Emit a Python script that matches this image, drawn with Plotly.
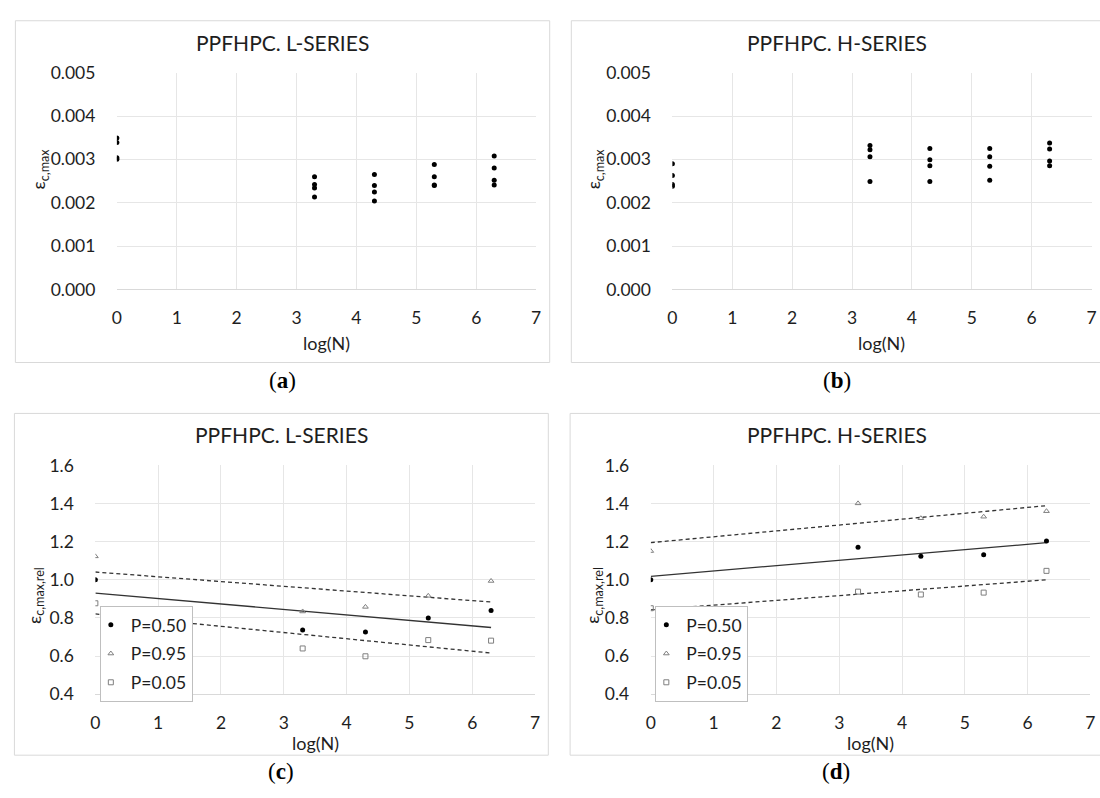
import numpy as np
import plotly.graph_objects as go

# ---------------- data ----------------
logN = [0, 3.3, 4.3, 5.3, 6.3]

# (a) L-series: eps_c,max, 4 specimens per level
L_eps = [
    [0.00349, 0.00339, 0.00304, 0.00300],
    [0.00260, 0.00242, 0.00234, 0.00213],
    [0.00265, 0.00240, 0.00225, 0.00204],
    [0.00288, 0.00260, 0.00241, 0.00240],
    [0.00308, 0.00280, 0.00252, 0.00241],
]
# (b) H-series
H_eps = [
    [0.00290, 0.00263, 0.00242, 0.00238],
    [0.00332, 0.00322, 0.00306, 0.00249],
    [0.00325, 0.00299, 0.00285, 0.00249],
    [0.00325, 0.00306, 0.00284, 0.00252],
    [0.00338, 0.00324, 0.00296, 0.00285],
]
# (c) L-series relative
L_p50 = [1.000, 0.737, 0.727, 0.800, 0.839]
L_p95 = [1.123, 0.834, 0.858, 0.916, 0.994]
L_p05 = [0.877, 0.640, 0.599, 0.684, 0.681]
# (d) H-series relative
H_p50 = [1.000, 1.171, 1.123, 1.132, 1.203]
H_p95 = [1.151, 1.401, 1.323, 1.331, 1.360]
H_p05 = [0.851, 0.938, 0.923, 0.933, 1.047]

titles = ["PPFHPC. L-SERIES", "PPFHPC. H-SERIES", "PPFHPC. L-SERIES", "PPFHPC. H-SERIES"]
captions = ["(<b>a</b>)", "(<b>b</b>)", "(<b>c</b>)", "(<b>d</b>)"]
legend_names = ["P=0.50", "P=0.95", "P=0.05"]

# ---------------- layout helpers ----------------
W, H = 1100, 798
FONT = "Lato, 'Open Sans', sans-serif"
TXT = "#1e1e1e"
GRID = "#e6e6e6"
FRAME = "#d9d9d9"

def px(x):
    return x / W

def py(y):
    return 1 - y / H

fig = go.Figure()

def flat(groups):
    xs, ys = [], []
    for xv, g in zip(logN, groups):
        for v in g:
            xs.append(xv)
            ys.append(v)
    return xs, ys

# (a)
xa, ya = flat(L_eps)
fig.add_trace(go.Scatter(x=xa, y=ya, mode="markers", xaxis="x", yaxis="y",
                         marker=dict(color="black", size=5), showlegend=False))
# (b)
xb, yb = flat(H_eps)
fig.add_trace(go.Scatter(x=xb, y=yb, mode="markers", xaxis="x2", yaxis="y2",
                         marker=dict(color="black", size=5), showlegend=False))

def rel_panel(p50, p95, p05, xa_, ya_, leg):
    xs = np.array(logN, dtype=float)
    xl = np.array([xs.min(), xs.max()])
    for vals, dash in ((p50, "solid"), (p95, "4px,3px"), (p05, "4px,3px")):
        k, b = np.polyfit(xs, np.array(vals), 1)
        fig.add_trace(go.Scatter(x=xl, y=k * xl + b, mode="lines", xaxis=xa_, yaxis=ya_,
                                 line=dict(color="#333333", width=1.3, dash=dash),
                                 showlegend=False, hoverinfo="skip"))
    styles = [
        dict(symbol="circle", size=5, color="black"),
        dict(symbol="triangle-up-open", size=5, color="#7f7f7f", line=dict(width=1, color="#7f7f7f")),
        dict(symbol="square-open", size=5, color="#7f7f7f", line=dict(width=1, color="#7f7f7f")),
    ]
    for vals, st, nm in zip((p50, p95, p05), styles, legend_names):
        fig.add_trace(go.Scatter(x=logN, y=vals, mode="markers", name=nm, xaxis=xa_, yaxis=ya_,
                                 marker=st, legend=leg, legendgroup=leg + nm, showlegend=True))

rel_panel(L_p50, L_p95, L_p05, "x3", "y3", "legend")
rel_panel(H_p50, H_p95, H_p05, "x4", "y4", "legend2")

# axes geometry (pixels)
panels = [
    dict(x=(112.9, 536.0), y=(63.3, 286.0), rng=[0, 0.005], dt=0.001, fmt=".3f"),
    dict(x=(673.5, 1096.5), y=(63.3, 286.0), rng=[0, 0.005], dt=0.001, fmt=".3f"),
    dict(x=(91.2, 534.9), y=(466.7, 701.7), rng=[0.4, 1.6], dt=0.2, fmt=".1f"),
    dict(x=(651.7, 1095.4), y=(466.7, 701.7), rng=[0.4, 1.6], dt=0.2, fmt=".1f"),
]
tickfont = dict(family=FONT, size=17.5, color=TXT)
lay = {}
for i, p in enumerate(panels):
    sx = "" if i == 0 else str(i + 1)
    lay["xaxis" + sx] = dict(
        domain=[px(p["x"][0]), px(p["x"][1])], range=[0, 7], dtick=1, tick0=0,
        anchor="y" + sx, showgrid=True, gridcolor=GRID, gridwidth=1, zeroline=False,
        showline=True, linecolor=FRAME, linewidth=1, mirror=False,
        ticks="outside", ticklen=13, tickcolor="rgba(0,0,0,0)",
        tickfont=tickfont, fixedrange=True)
    lay["yaxis" + sx] = dict(
        domain=[py(p["y"][1]), py(p["y"][0])], range=p["rng"], dtick=p["dt"], tick0=0,
        tickformat=p["fmt"], anchor="x" + sx, showgrid=True, gridcolor=GRID, gridwidth=1,
        zeroline=False, showline=False,
        ticks="outside", ticklen=17, tickcolor="rgba(0,0,0,0)",
        tickfont=tickfont, fixedrange=True)

shapes = []
frames = [(10.5, 10, 549.7, 361), (571.5, 10, 1108.5, 361),
          (9.5, 413.3, 548.3, 764.3), (570.3, 413.3, 1108.5, 764.3)]
for (x0, y0, x1, y1) in frames:
    shapes.append(dict(type="rect", xref="paper", yref="paper",
                       x0=px(x0), x1=px(x1), y0=py(y1), y1=py(y0),
                       line=dict(color=FRAME, width=1), fillcolor="rgba(0,0,0,0)", layer="below"))

ann = []
title_pos = [(280, 32), (840, 32), (279, 435), (839.4, 435)]
cap_pos = [(280, 379), (840, 379), (279, 781), (839, 781)]
xlab_pos = [(324.5, 341), (885, 341), (313, 752), (873.5, 752)]
ylab_pos = [(35, 162), (595, 162), (30, 600), (594, 600)]
ylab_txt = ["ε<sub>c,max</sub>", "ε<sub>c,max</sub>", "ε<sub>c,max,rel</sub>", "ε<sub>c,max,rel</sub>"]
for i in range(4):
    ann.append(dict(text=titles[i], x=px(title_pos[i][0]), y=py(title_pos[i][1]), xref="paper", yref="paper",
                    showarrow=False, xanchor="center", yanchor="middle",
                    font=dict(family=FONT, size=21, color=TXT)))
    ann.append(dict(text=captions[i], x=px(cap_pos[i][0]), y=py(cap_pos[i][1]), xref="paper", yref="paper",
                    showarrow=False, xanchor="center", yanchor="middle",
                    font=dict(family="'Liberation Serif', 'DejaVu Serif', serif", size=23, color="black")))
    ann.append(dict(text="log(N)", x=px(xlab_pos[i][0]), y=py(xlab_pos[i][1]), xref="paper", yref="paper",
                    showarrow=False, xanchor="center", yanchor="middle",
                    font=dict(family=FONT, size=18, color=TXT)))
    ann.append(dict(text=ylab_txt[i], x=px(ylab_pos[i][0]), y=py(ylab_pos[i][1]), xref="paper", yref="paper",
                    showarrow=False, xanchor="center", yanchor="middle", textangle=-90,
                    font=dict(family=FONT, size=18, color=TXT)))

legstyle = dict(xanchor="left", yanchor="top", bgcolor="white", bordercolor="#bfbfbf", borderwidth=1,
                font=dict(family=FONT, size=17.5, color=TXT), tracegroupgap=3, traceorder="grouped",
                itemclick=False, itemdoubleclick=False, indentation=-10)

fig.update_layout(
    width=W, height=H, margin=dict(l=0, r=0, t=0, b=0),
    paper_bgcolor="white", plot_bgcolor="white",
    shapes=shapes, annotations=ann,
    legend=dict(x=px(95.7), y=py(611), **legstyle),
    legend2=dict(x=px(656.3), y=py(611), **legstyle),
    **lay,
)

fig.write_html("out.html", config={"displayModeBar": False},
               post_script="document.body.style.margin='0';document.body.style.padding='0';")
